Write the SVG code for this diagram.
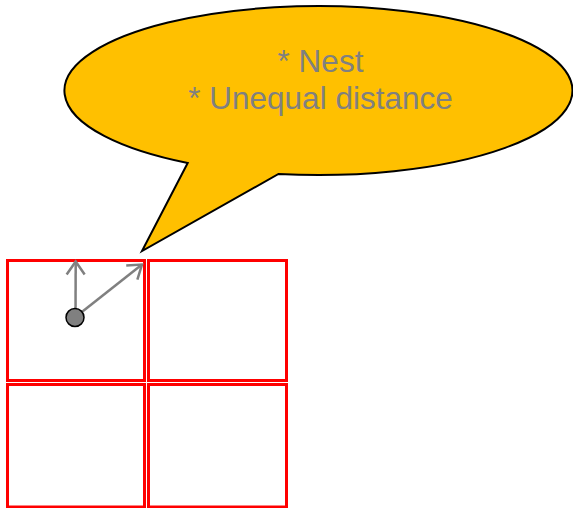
<svg xmlns="http://www.w3.org/2000/svg" width="573" height="508" viewBox="0 0 573 508">
  <style>
    .cell { fill: #FFFFFF; stroke: #FF0000; stroke-width: 3; }
    .callout { fill: #FFC000; stroke: #000000; stroke-width: 2; stroke-linejoin: miter; }
    .label { font-family: "Liberation Sans", Arial, sans-serif; font-size: 31.5px; fill: #808080; text-anchor: middle; }
    .arrow { stroke: #808080; stroke-width: 2.5; fill: none; }
    .dot { fill: #808080; stroke: #000000; stroke-width: 1.5; }
  </style>
  <defs>
    <marker id="openArrow" markerUnits="userSpaceOnUse" viewBox="-16 -12 20 24" refX="0" refY="0" markerWidth="20" markerHeight="24" orient="auto">
      <path d="M-13,-9 L0,0 L-13,9" fill="none" stroke="#808080" stroke-width="2.5" stroke-linecap="butt"/>
    </marker>
  </defs>
  <rect width="573" height="508" fill="#FFFFFF"/>

  <g id="callout">
    <path class="callout" d="M187.7,163 L142,251 L278.5,174 A254 84.5 0 1 0 187.7,163 Z"/>
    <text class="label" x="320.5" y="72">* Nest</text>
    <text class="label" x="320.5" y="109">* Unequal distance</text>
  </g>

  <g id="cell-top-left"><rect class="cell" x="7.5" y="260.5" width="137" height="120"/></g>
  <g id="cell-top-right"><rect class="cell" x="148.5" y="260.5" width="138" height="120"/></g>
  <g id="cell-bottom-left"><rect class="cell" x="7.5" y="384.5" width="137" height="122.5"/></g>
  <g id="cell-bottom-right"><rect class="cell" x="148.5" y="384.5" width="138" height="122.5"/></g>

  <g id="connectors">
    <line class="arrow" x1="75.5" y1="317" x2="75.7" y2="261.5" marker-end="url(#openArrow)"/>
    <line class="arrow" x1="75.5" y1="317" x2="142" y2="264.5" marker-end="url(#openArrow)"/>
  </g>

  <g id="point">
    <circle class="dot" cx="75" cy="317.5" r="9"/>
  </g>
</svg>
